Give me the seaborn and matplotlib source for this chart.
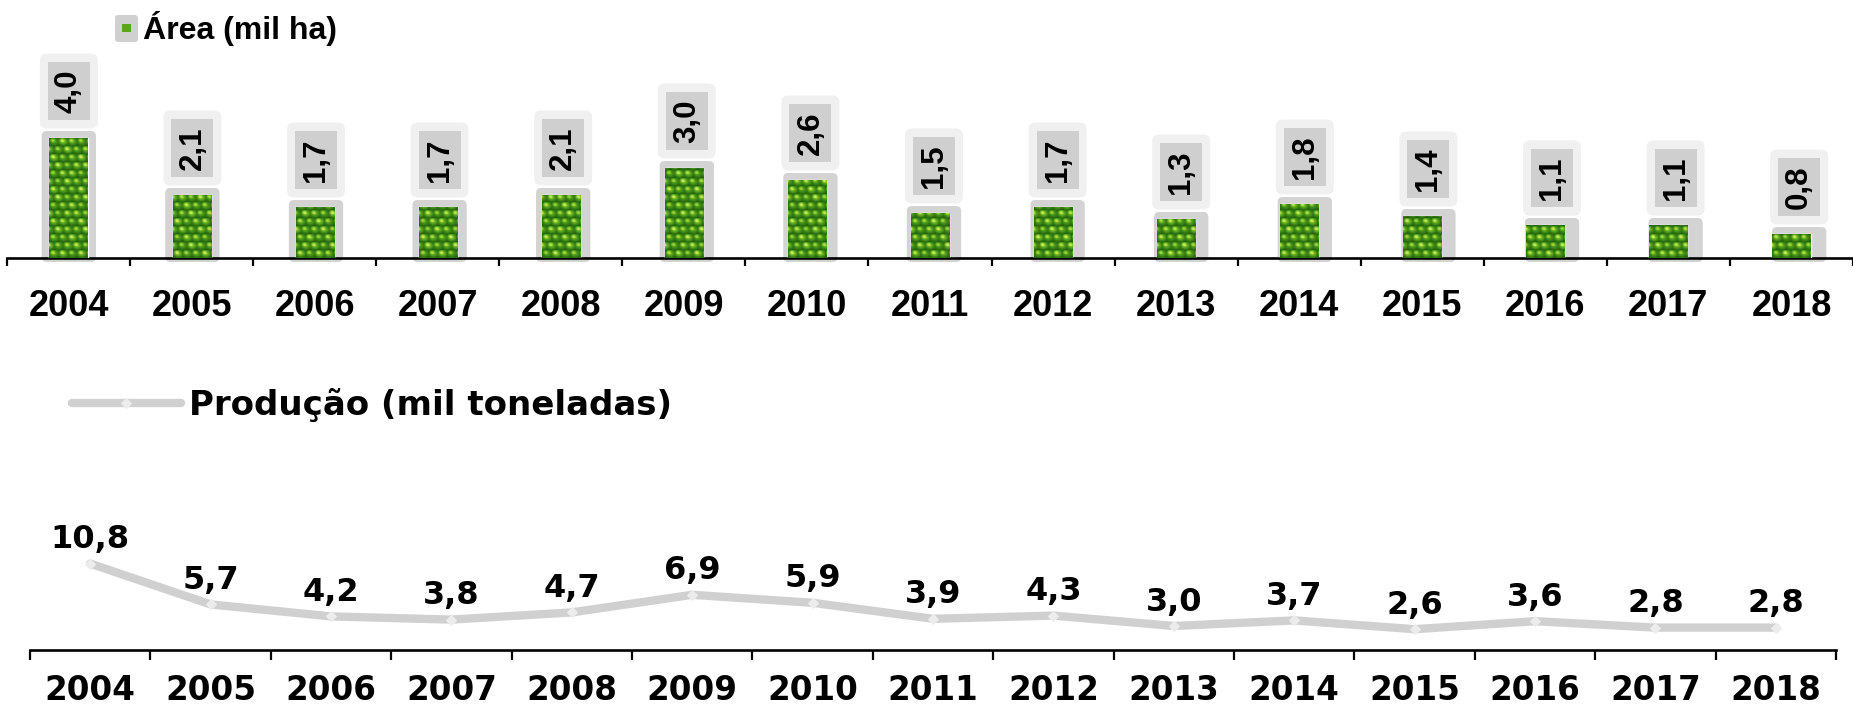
import numpy as np
import pandas as pd
import matplotlib
matplotlib.use("Agg")
import matplotlib.pyplot as plt
import seaborn as sns
from matplotlib.patches import FancyBboxPatch, Rectangle
from matplotlib.transforms import IdentityTransform
from matplotlib.colors import LinearSegmentedColormap

# ---------------- data ----------------
years = [str(y) for y in range(2004, 2019)]
area = [4.0, 2.1, 1.7, 1.7, 2.1, 3.0, 2.6, 1.5, 1.7, 1.3, 1.8, 1.4, 1.1, 1.1, 0.8]
producao = [10.8, 5.7, 4.2, 3.8, 4.7, 6.9, 5.9, 3.9, 4.3, 3.0, 3.7, 2.6, 3.6, 2.8, 2.8]
area_title = "Área (mil ha)"
prod_title = "Produção (mil toneladas)"

W, H, DPI = 1853, 706, 100
sns.set_theme(style="white")
plt.rcParams["font.family"] = ["Liberation Sans", "DejaVu Sans"]
plt.rcParams["text.color"] = "black"

fig = plt.figure(figsize=(W / DPI, H / DPI), dpi=DPI)
fig.patch.set_facecolor("white")
ID = IdentityTransform()


def rect_frac(x0, y_top, x1, y_bot):
    return [x0 / W, 1 - y_bot / H, (x1 - x0) / W, (y_bot - y_top) / H]


def fmt(v):
    return f"{v:.1f}".replace(".", ",")


leaf_cmap = LinearSegmentedColormap.from_list(
    "leaf", ["#0f3507", "#2c7012", "#5aa81e", "#98d232", "#def57a"])


def texture(h, w, ph):
    yy, xx = np.mgrid[0:h, 0:w].astype(float)
    cw, ch = 9.0, 8.0
    row = np.floor(yy / ch)
    xs = xx + (row % 2) * cw / 2
    col = np.floor(xs / cw)
    fx = xs / cw - col - 0.5
    fy = yy / ch - row - 0.5
    d = np.sqrt(fx ** 2 + (fy * 1.1) ** 2)
    bump = np.clip(1 - d * 1.5, 0, 1)
    var = 0.5 + 0.5 * np.sin(col * 2.3 + row * 1.7 + ph)
    hl = np.clip(1 - np.sqrt((fx + 0.15) ** 2 + (fy - 0.15) ** 2) * 3, 0, 1)
    t = 0.2 + 0.55 * bump * (0.55 + 0.45 * var) + 0.45 * hl
    return np.clip(t, 0, 1)


# ---------------- top panel: area bars ----------------
ax1 = fig.add_axes(rect_frac(7, 40, 1853, 258))
df_a = pd.DataFrame({"ano": years, "area": area})
sns.barplot(data=df_a, x="ano", y="area", ax=ax1, width=0.31,
            color="#4f9a1c", saturation=1, zorder=3)
xl1 = (-0.5, -0.5 + (1853 - 7) / 123.6)
yl1 = (0, 218 / 30)
ax1.set_xlim(*xl1)
ax1.set_ylim(*yl1)

for i, p in enumerate(list(ax1.patches)):
    x0d, y0d = ax1.transData.transform((p.get_x(), 0))
    x1d, y1d = ax1.transData.transform((p.get_x() + p.get_width(), p.get_height()))
    frame = FancyBboxPatch((x0d - 8, y0d - 4), (x1d - x0d) + 16, (y1d - y0d) + 11,
                           boxstyle="round,pad=0,rounding_size=5",
                           fc="#d3d3d3", ec="none", transform=ID, zorder=2,
                           clip_on=False)
    ax1.add_artist(frame)
    hp, wp = max(int(y1d - y0d), 2), max(int(x1d - x0d), 2)
    im = ax1.imshow(texture(hp, wp, i * 1.3), cmap=leaf_cmap, origin="lower",
                    extent=(p.get_x(), p.get_x() + p.get_width(), 0, p.get_height()),
                    aspect="auto", interpolation="bilinear", zorder=4, vmin=0, vmax=1)
    im.set_clip_path(p)
    cx = (x0d + x1d) / 2
    cy = y1d + 47
    outer = FancyBboxPatch((cx - 29, cy - 37.5), 58, 75,
                           boxstyle="round,pad=0,rounding_size=7",
                           fc="#f0f0f0", ec="none", transform=ID, zorder=5, clip_on=False)
    inner = Rectangle((cx - 21, cy - 29), 42, 58, fc="#cfcfcf", ec="none",
                      transform=ID, zorder=6, clip_on=False)
    ax1.add_artist(outer)
    ax1.add_artist(inner)
    ax1.text(cx, cy, fmt(area[i]), transform=ID, rotation=90, ha="center",
             va="center", fontsize=22.5, fontweight="bold", color="black",
             zorder=7, clip_on=False, family="Liberation Sans")

ax1.set_xlim(*xl1)
ax1.set_ylim(*yl1)
ax1.set_xlabel("")
ax1.set_ylabel("")
ax1.set_yticks([])
for s in ["top", "left", "right"]:
    ax1.spines[s].set_visible(False)
ax1.spines["bottom"].set_color("black")
ax1.spines["bottom"].set_linewidth(1.9)
ax1.set_xticks(range(len(years)))
ax1.set_xticklabels(years, fontsize=26, fontweight="bold", family="Liberation Sans")
ax1.set_xticks(np.arange(-0.5, len(years) + 0.5, 1), minor=True)
ax1.tick_params(axis="x", which="major", bottom=True, length=0, pad=22, colors="black")
ax1.tick_params(axis="x", which="minor", bottom=True, length=6, width=1.6,
                direction="out", color="black")

# top legend
lg_box = FancyBboxPatch((115, H - 42), 23, 27, boxstyle="round,pad=0,rounding_size=3",
                        fc="#d0d0d0", ec="none", transform=ID)
fig.add_artist(lg_box)
fig.add_artist(Rectangle((122, H - 32), 9, 8, fc="#5aa51c", ec="none", transform=ID))
fig.text(143 / W, 1 - 28 / H, area_title, ha="left", va="center", fontsize=23,
         fontweight="bold", family="Liberation Sans", color="black")

# ---------------- bottom panel: production line ----------------
ax2 = fig.add_axes(rect_frac(30, 430, 1836, 650))
xpos = np.arange(len(years))
sns.lineplot(x=xpos, y=producao, ax=ax2, color="#d0d0d0", linewidth=6,
             marker="D", markersize=5, markerfacecolor="#ececec",
             markeredgecolor="#ececec", label=prod_title, zorder=3,
             solid_capstyle="round", solid_joinstyle="round")
ax2.set_xlim(-0.5, len(years) - 0.5)
ax2.set_ylim(0, 220 / 8)
for i, v in enumerate(producao):
    ax2.annotate(fmt(v), (xpos[i], v), xytext=(0, 6), textcoords="offset points",
                 ha="center", va="bottom", fontsize=23, fontweight="bold",
                 family="DejaVu Sans", color="black")
ax2.set_xlabel("")
ax2.set_ylabel("")
ax2.set_yticks([])
for s in ["top", "left", "right"]:
    ax2.spines[s].set_visible(False)
ax2.spines["bottom"].set_color("black")
ax2.spines["bottom"].set_linewidth(1.9)
ax2.set_xticks(xpos)
ax2.set_xticklabels(years, fontsize=23.5, fontweight="bold", family="DejaVu Sans")
ax2.set_xticks(np.arange(-0.5, len(years), 1), minor=True)
ax2.tick_params(axis="x", which="major", bottom=True, length=0, pad=17, colors="black")
ax2.tick_params(axis="x", which="minor", bottom=True, length=7.5, width=1.6,
                direction="out", color="black")

leg = ax2.legend(loc="center left", bbox_to_anchor=(72 / W, 1 - 405 / H),
                 bbox_transform=fig.transFigure, frameon=False, handlelength=3.2,
                 handletextpad=0.25, borderpad=0, borderaxespad=0, labelcolor="black",
                 prop={"family": "DejaVu Sans", "weight": "bold", "size": 24.5})

fig.savefig("out.png", dpi=DPI, facecolor="white")
